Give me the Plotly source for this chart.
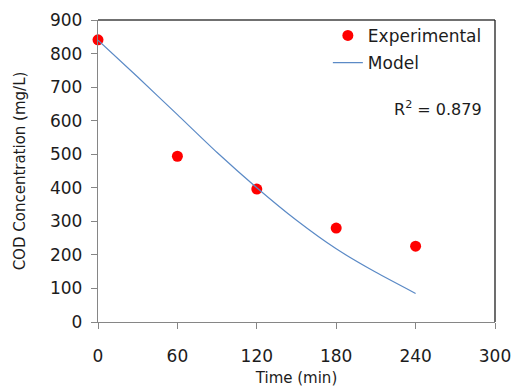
import plotly.graph_objects as go

exp_time = [0, 60, 120, 180, 240]
exp_cod = [841, 494, 396, 280, 226]

model_time = [0, 30, 60, 90, 120, 150, 180, 210, 240]
model_cod = [840, 730, 618, 505, 400, 303, 218, 148, 85]

x_ticks = [0, 60, 120, 180, 240, 300]
y_ticks = [0, 100, 200, 300, 400, 500, 600, 700, 800, 900]

FONT = "'DejaVu Sans', sans-serif"
TXT = "#1c1c1c"

fig = go.Figure()
fig.add_trace(go.Scatter(
    x=exp_time, y=exp_cod, mode="markers", name="Experimental", legendgroup="a",
    marker=dict(color="#FF0000", size=11, line=dict(width=0)),
    cliponaxis=False,
))
fig.add_trace(go.Scatter(
    x=model_time, y=model_cod, mode="lines", name="Model", legendgroup="b",
    line=dict(color="#5B8AC6", width=1.2, shape="spline", smoothing=0.6),
))

fig.add_annotation(
    x=1, y=(322 - 108) / 302, xref="paper", yref="paper", xanchor="right", yanchor="middle",
    xshift=-11, text="R<sup>2</sup> = 0.879", showarrow=False,
    font=dict(family=FONT, size=16, color=TXT),
)

# top/right frame lines
fig.add_shape(type="line", xref="paper", yref="paper", x0=0, x1=1, y0=1, y1=1,
              line=dict(color="#404040", width=1.3))
fig.add_shape(type="line", xref="paper", yref="paper", x0=1, x1=1, y0=0, y1=1,
              line=dict(color="#202020", width=1.3))

fig.update_layout(
    width=513, height=391,
    margin=dict(l=98, r=18, t=20, b=69, autoexpand=False),
    paper_bgcolor="white", plot_bgcolor="white",
    font=dict(family=FONT, size=17, color=TXT),
    showlegend=True,
    legend=dict(
        x=0.579, y=1.007, xanchor="left", yanchor="top",
        bgcolor="rgba(0,0,0,0)", font=dict(family=FONT, size=17, color=TXT),
        itemwidth=30, traceorder="grouped", tracegroupgap=2,
    ),
    xaxis=dict(
        range=[0, 300], tickvals=x_ticks, ticktext=[str(v) for v in x_ticks],
        showgrid=False, zeroline=False, showline=True, linecolor="#868686", linewidth=1.3,
        ticks="outside", ticklen=6, tickcolor="#868686", tickwidth=1.3,
        ticklabelstandoff=12, automargin=False,
        title=dict(text="Time (min)", font=dict(family=FONT, size=15, color=TXT), standoff=7),
    ),
    yaxis=dict(
        range=[0, 900], tickvals=y_ticks,
        showgrid=False, zeroline=False, showline=True, linecolor="#868686", linewidth=1.3,
        ticks="outside", ticklen=6, tickcolor="#868686", tickwidth=1.3,
        ticklabelstandoff=5, automargin=False,
        title=dict(text="COD Concentration (mg/L)", font=dict(family=FONT, size=15, color=TXT), standoff=20),
    ),
)

fig.write_html(
    "out.html",
    config={"displayModeBar": False},
    post_script="document.body.style.margin='0';document.body.style.overflow='hidden';",
)
